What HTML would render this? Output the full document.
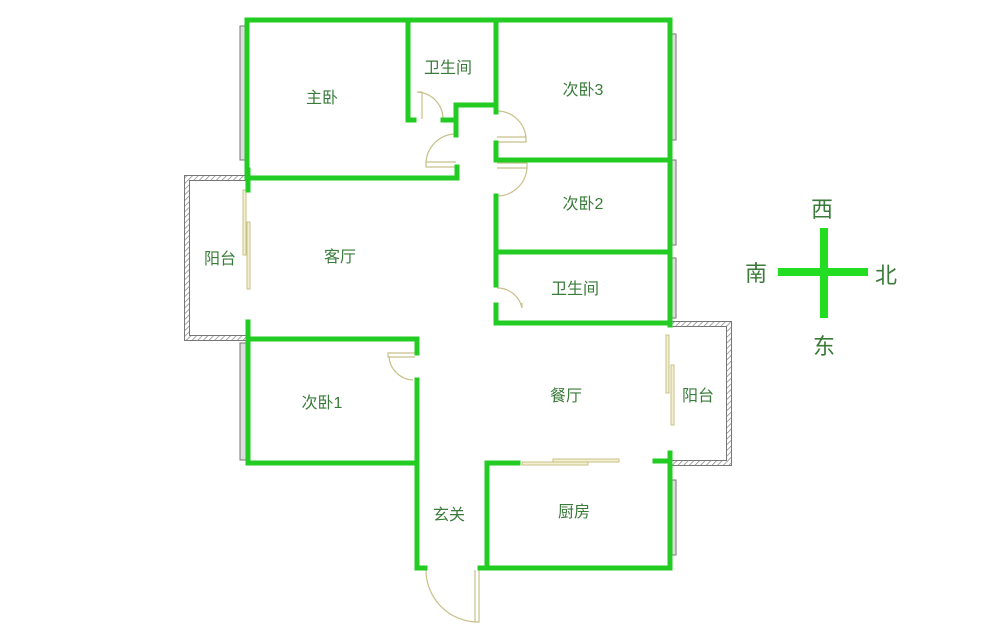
<!DOCTYPE html>
<html><head><meta charset="utf-8"><style>
html,body{margin:0;padding:0;background:#fff;}
svg{display:block}
text{font-family:"Liberation Sans","Noto Sans CJK SC",sans-serif;fill:#3a7a3a;font-size:16px;text-anchor:middle;}
</style></head><body>
<svg width="1000" height="639" viewBox="0 0 1000 639" xmlns="http://www.w3.org/2000/svg">
<defs>
<pattern id="h" width="4" height="4" patternUnits="userSpaceOnUse" patternTransform="rotate(45)">
<rect width="4" height="4" fill="#fff"/><line x1="0" y1="0" x2="0" y2="4" stroke="#888" stroke-width="1.5"/></pattern>
</defs>
<path d="M247 178 H187 V338 H247" fill="none" stroke="#777" stroke-width="6"/>
<path d="M247 178 H187 V338 H247" fill="none" stroke="url(#h)" stroke-width="4"/>
<path d="M672 324 H729 V463 H672" fill="none" stroke="#777" stroke-width="6"/>
<path d="M672 324 H729 V463 H672" fill="none" stroke="url(#h)" stroke-width="4"/>
<g fill="#ddd" stroke="#777" stroke-width="1">
<rect x="240" y="26" width="7" height="134"/>
<rect x="240" y="343" width="7" height="117"/>
<rect x="670" y="34" width="6" height="106"/>
<rect x="670" y="160" width="6" height="85"/>
<rect x="670" y="258" width="6" height="60"/>
<rect x="670" y="480" width="6" height="75"/>
</g>
<g fill="#f3efd0" stroke="#c8c08a" stroke-width="1">
<rect x="243" y="190" width="3" height="65"/>
<rect x="247" y="222" width="3" height="67"/>
<rect x="666" y="335" width="3" height="58"/>
<rect x="671" y="365" width="3" height="60"/>
<rect x="522" y="462" width="66" height="3"/>
<rect x="553" y="459" width="66" height="3"/>
</g>
<g fill="none" stroke="#c8c08a" stroke-width="1.2">
<path d="M417 92 h5 v27 M417 92 A27 27 0 0 1 443 118"/>
<path d="M456 162 h-30 v5 h30 M426 164 A30 30 0 0 1 456 134"/>
<path d="M497 137 h29 v5 h-29 M526 140 A29 29 0 0 0 497 111"/>
<path d="M497 163 h30 v5 h-30 M527 166 A30 30 0 0 1 497 196"/>
<path d="M497 288 A25 25 0 0 1 522 308 M522 303 v5"/>
<path d="M415 353 h-27 v4 h27 M389 356 A25 25 0 0 0 413 380"/>
<path d="M426 570 A52 52 0 0 0 478 622 M475 570 v52 h4 v-52"/>
</g>
<g fill="none" stroke="#22cc22" stroke-width="5" stroke-linecap="square">
<path d="M247 20 H670 V325"/>
<path d="M247 20 V178 H457 V167"/>
<path d="M408 20 V120 H414"/>
<path d="M443 120 H456 V105 H495"/>
<path d="M456 120 V135"/>
<path d="M496 20 V112"/>
<path d="M496 143 V160 H670"/>
<path d="M496 196 V285"/>
<path d="M496 252 H670"/>
<path d="M496 305 V323 H670"/>
<path d="M248 170 V190"/>
<path d="M248 322 V463 H416"/>
<path d="M248 339 H417 V353"/>
<path d="M417 380 V568 H425"/>
<path d="M480 568 H670 V453"/>
<path d="M487 568 V463 H518"/>
<path d="M655 461 H670"/>
</g>
<text x="322" y="103">主卧</text>
<text x="448" y="73">卫生间</text>
<text x="583" y="95">次卧3</text>
<text x="583" y="209">次卧2</text>
<text x="575" y="294">卫生间</text>
<text x="340" y="262">客厅</text>
<text x="220" y="264">阳台</text>
<text x="322" y="408">次卧1</text>
<text x="566" y="401">餐厅</text>
<text x="698" y="401">阳台</text>
<text x="449" y="520">玄关</text>
<text x="574" y="517">厨房</text>
<rect x="778" y="268" width="90" height="8" fill="#22dd22"/>
<rect x="820" y="228" width="8" height="90" fill="#22dd22"/>
<text x="822" y="217" style="font-size:22px">西</text>
<text x="756" y="281" style="font-size:22px">南</text>
<text x="886" y="283" style="font-size:22px">北</text>
<text x="824" y="354" style="font-size:22px">东</text>
</svg>
</body></html>
